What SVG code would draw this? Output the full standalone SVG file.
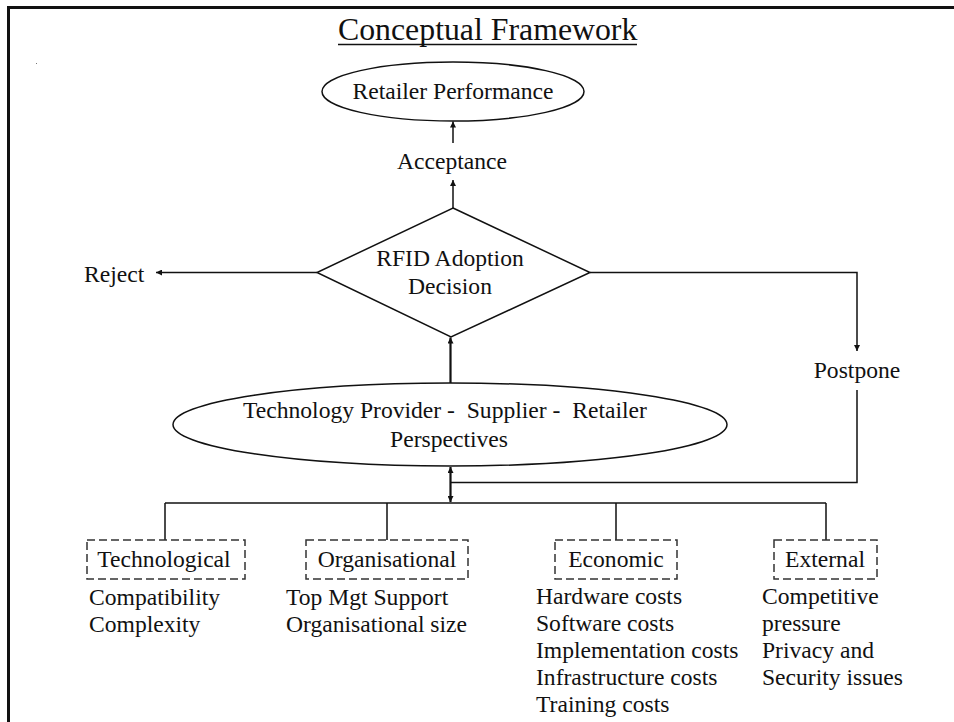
<svg xmlns="http://www.w3.org/2000/svg" width="954" height="722" viewBox="0 0 954 722">
  <style>
    .t { font-family: "Liberation Serif", "Times New Roman", serif; font-size: 23.6px; fill: #111; }
    .title { font-family: "Liberation Serif", "Times New Roman", serif; font-size: 31.8px; fill: #111; }
    .shape { fill: #fff; stroke: #111; stroke-width: 1.5; }
    .dash { fill: none; stroke: #333; stroke-width: 1.5; stroke-dasharray: 8 4; }
    .c { fill: none; stroke: #111; stroke-width: 1.5; }
    .thick { stroke-width: 2.2; }
  </style>
  <defs>
    <marker id="ah" markerUnits="userSpaceOnUse" markerWidth="7" markerHeight="6" refX="6" refY="3" orient="auto">
      <path d="M0,0 L6,3 L0,6 z" fill="#111"/>
    </marker>
    <marker id="ahs" markerUnits="userSpaceOnUse" markerWidth="7" markerHeight="6" refX="0" refY="3" orient="auto">
      <path d="M6,0 L0,3 L6,6 z" fill="#111"/>
    </marker>
  </defs>
  <rect width="954" height="722" fill="#fff"/>
  <path d="M8.5,722 V7.5 H954" fill="none" stroke="#111" stroke-width="3"/>
  <rect x="36" y="63" width="1" height="1" fill="#777"/>

  <g id="title">
    <text class="title" x="338" y="40">Conceptual Framework</text>
    <line x1="338" y1="44.5" x2="637" y2="44.5" stroke="#111" stroke-width="1.5"/>
  </g>

  <g id="connectors">
    <line class="c" x1="453" y1="143" x2="453" y2="121.5" marker-end="url(#ah)"/>
    <line class="c" x1="453" y1="208" x2="453" y2="180" marker-end="url(#ah)"/>
    <line class="c" x1="317" y1="272.5" x2="156" y2="272.5" marker-end="url(#ah)"/>
    <path class="c" d="M590,272.5 H857 V351" marker-end="url(#ah)"/>
    <path class="c" d="M857,390 V482.5 H451"/>
    <line class="c thick" x1="450.5" y1="383" x2="450.5" y2="337.5" marker-end="url(#ah)"/>
    <line class="c thick" x1="450.5" y1="467" x2="450.5" y2="502" marker-start="url(#ahs)" marker-end="url(#ah)"/>
    <path class="c" d="M165,503 H826"/>
    <path class="c" stroke="#333" d="M165,503 V540 M387,503 V540 M616,503 V540 M826,503 V540"/>
  </g>

  <g id="retailer-performance">
    <ellipse class="shape" cx="453" cy="91.5" rx="131" ry="29.5"/>
    <text class="t" x="453" y="99" text-anchor="middle">Retailer Performance</text>
  </g>

  <g id="acceptance">
    <text class="t" x="452" y="169" text-anchor="middle">Acceptance</text>
  </g>

  <g id="rfid-decision">
    <polygon class="shape" points="453,208 590,272.5 451,337 317,272.5"/>
    <text class="t" x="450" y="266" text-anchor="middle">RFID Adoption</text>
    <text class="t" x="450" y="294" text-anchor="middle">Decision</text>
  </g>

  <g id="reject">
    <text class="t" x="84" y="282">Reject</text>
  </g>

  <g id="postpone">
    <text class="t" x="857" y="378" text-anchor="middle">Postpone</text>
  </g>

  <g id="perspectives">
    <ellipse class="shape" cx="450" cy="424.5" rx="277" ry="41.5"/>
    <text class="t" x="243" y="418" xml:space="preserve" style="white-space:pre">Technology Provider -  Supplier -  Retailer</text>
    <text class="t" x="449" y="447" text-anchor="middle">Perspectives</text>
  </g>

  <g id="technological">
    <rect class="dash" x="87" y="540" width="158" height="39"/>
    <text class="t" x="164" y="567" text-anchor="middle">Technological</text>
    <text class="t" x="89" y="605">Compatibility</text>
    <text class="t" x="89" y="632">Complexity</text>
  </g>

  <g id="organisational">
    <rect class="dash" x="306" y="540" width="162" height="39"/>
    <text class="t" x="387" y="567" text-anchor="middle">Organisational</text>
    <text class="t" x="286" y="605">Top Mgt Support</text>
    <text class="t" x="286" y="632">Organisational size</text>
  </g>

  <g id="economic">
    <rect class="dash" x="555" y="540" width="122" height="39"/>
    <text class="t" x="616" y="567" text-anchor="middle">Economic</text>
    <text class="t" x="536" y="604">Hardware costs</text>
    <text class="t" x="536" y="631">Software costs</text>
    <text class="t" x="536" y="658">Implementation costs</text>
    <text class="t" x="536" y="685">Infrastructure costs</text>
    <text class="t" x="536" y="712">Training costs</text>
  </g>

  <g id="external">
    <rect class="dash" x="774" y="540" width="103" height="39"/>
    <text class="t" x="825" y="567" text-anchor="middle">External</text>
    <text class="t" x="762" y="604">Competitive</text>
    <text class="t" x="762" y="631">pressure</text>
    <text class="t" x="762" y="658">Privacy and</text>
    <text class="t" x="762" y="685">Security issues</text>
  </g>
</svg>
